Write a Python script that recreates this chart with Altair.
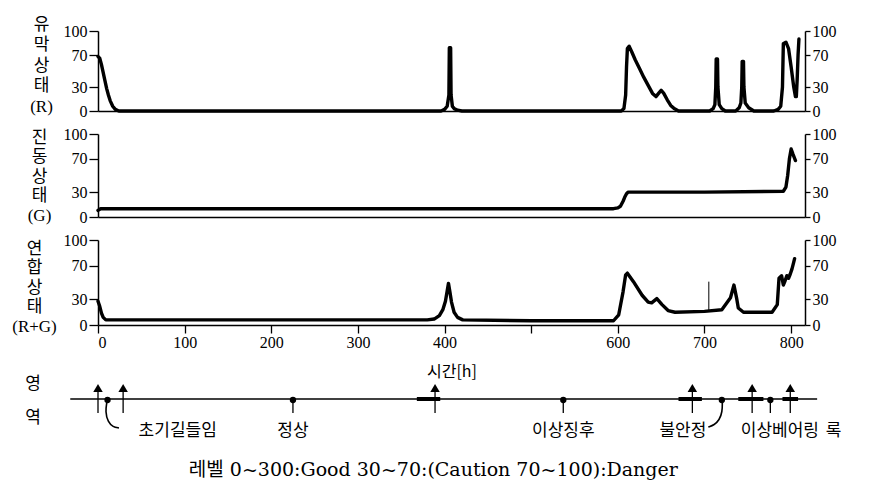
import altair as alt
import pandas as pd

# ---------------- data ----------------
# 유막상태 (R)
r_h = [0, 2, 4, 6, 8, 10, 12, 14, 17, 20, 24,
       396, 400, 403, 405, 405.5, 407, 407.5, 409, 411, 415, 420,
       604, 607, 609, 610, 611, 613, 616, 620, 625, 630, 635, 640, 644, 647, 650, 653, 657, 661, 665, 670,
       706, 710, 712, 713, 713.5, 715, 715.5, 717, 720, 724,
       736, 740, 742, 743, 743.5, 745, 745.5, 747, 751, 757,
       780, 785, 788, 790, 791, 794, 797, 800, 803, 805, 806, 807, 808, 809]
r_v = [68, 66, 58, 48, 38, 28, 20, 13, 6, 2, 0,
       0, 2, 6, 20, 79, 79, 20, 6, 3, 1, 0,
       0, 3, 20, 55, 78, 81, 74, 64, 53, 42, 32, 22, 18, 22, 26, 22, 14, 7, 3, 0,
       0, 3, 8, 30, 65, 65, 30, 8, 3, 0,
       0, 4, 10, 30, 62, 62, 30, 10, 4, 0,
       0, 2, 6, 30, 84, 86, 78, 55, 30, 18, 18, 40, 70, 90]

# 진동상태 (G)
g_h = [0, 3, 300, 595, 600, 603, 606, 608, 610, 612, 616, 700, 791, 794, 796, 798, 800, 802, 805]
g_v = [8, 10, 10, 10, 11, 13, 19, 24, 28, 30, 30, 30, 31, 36, 50, 70, 82, 76, 68]

# 연합상태 (R+G)
rg_h = [0, 2, 4, 6, 9, 200, 380, 388, 394, 398, 401, 403, 404.5, 406, 408, 411, 415, 421,
        500, 595, 601, 606, 609, 611, 618, 628, 635, 639, 645, 651, 658, 666, 700, 720,
        730, 734, 737, 739, 745, 778, 784, 786, 789, 791, 793, 795, 797, 799, 801, 803, 804]
rg_v = [28, 22, 14, 9, 6, 6, 6, 7, 11, 18, 28, 40, 49, 40, 27, 15, 9, 6,
        5, 5, 12, 39, 59, 61, 51, 35, 27, 26, 31, 24, 17, 15, 16, 18,
        32, 47, 32, 20, 15, 15, 24, 55, 58, 47, 52, 58, 55, 60, 66, 74, 78]
rg_spike_h = [705]
rg_spike_lo = [16]
rg_spike_hi = [51]

# bottom region strip
arrow_h = [0, 29, 389, 686, 755, 799]
dot_h = [11, 225, 537, 720, 776]
stem_dot_h = [225, 537, 776]
blob_from = [368, 670, 739, 790]
blob_to = [395, 697, 768, 808]
hook_id = [1, 1, 1, 1, 1, 2, 2, 2, 2, 2]
hook_h = [10.4, 8.4, 11.5, 17.3, 24.2, 720.6, 720.6, 717.1, 711.3, 704.4]
hook_y = [53, 64, 74, 79, 80, 53, 64, 72, 77, 79]
label_text = ["초기길들임", "정상", "이상징후", "불안정", "이상베어링", "록"]
label_h = [92, 225, 537, 675, 787, 849]
caption = "레벨  0~300:Good 30~70:(Caution 70~100):Danger"

titles = [["유", "막", "상", "태", "(R)"],
          ["진", "동", "상", "태", "(G)"],
          ["연", "합", "상", "태", "(R+G)"]]
x_ticks = [0, 100, 200, 300, 400, 500, 600, 700, 800]
y_ticks = [0, 30, 70, 100]

# ---------------- styling ----------------
X_DOMAIN = [0, 816]
W = 707
SERIF = "'Liberation Serif', 'Noto Sans CJK KR', serif"
KR = "'Noto Sans CJK KR', sans-serif"
LW = 3.4

xscale = alt.Scale(domain=X_DOMAIN, nice=False, zero=False)
yscale = alt.Scale(domain=[0, 100], nice=False)


def x_axis(bottom):
    if bottom:
        return alt.Axis(values=x_ticks, labelExpr="datum.value == 500 ? '' : datum.label",
                        tickSize=8, tickColor="black", tickWidth=1.3,
                        domainColor="black", domainWidth=1.5, grid=False,
                        labelFont=SERIF, labelFontSize=16, labelColor="black", labelPadding=1,
                        title="시간[h]", titleFont=KR, titleFontSize=16, titleFontWeight="normal",
                        titleColor="black", titlePadding=13)
    return alt.Axis(labels=False, ticks=False, title=None, grid=False,
                    domainColor="black", domainWidth=1.5)


def panel(h, v, title, height, tx, ty, lh, bottom, extra=None):
    df = pd.DataFrame({"h": h, "v": v})
    xa = x_axis(bottom)
    line = alt.Chart(df).mark_line(color="black", strokeWidth=LW, strokeJoin="round",
                                   strokeCap="round", clip=False).encode(
        x=alt.X("h:Q", scale=xscale, axis=xa),
        y=alt.Y("v:Q", scale=yscale,
                axis=alt.Axis(orient="left", values=y_ticks, tickSize=9, tickColor="black",
                              tickWidth=1.3, domainColor="black", domainWidth=1.5, grid=False,
                              labelFont=SERIF, labelFontSize=16, labelColor="black",
                              labelPadding=2, title=title, titleAngle=0, titleAlign="center",
                              titleBaseline="middle", titleX=tx, titleY=ty,
                              titleLineHeight=lh, titleFont=SERIF, titleFontSize=17,
                              titleFontWeight="normal", titleColor="black")),
    )
    right = alt.Chart(df).mark_line(strokeOpacity=0).encode(
        x=alt.X("h:Q", scale=xscale, axis=xa),
        y=alt.Y("v:Q", scale=yscale,
                axis=alt.Axis(orient="right", values=y_ticks, tickSize=5, tickColor="black",
                              tickWidth=1.3, domainColor="black", domainWidth=1.5, grid=False,
                              labelFont=SERIF, labelFontSize=16, labelColor="black",
                              labelPadding=2, title=None)),
    )
    layers = [line, right]
    if extra is not None:
        layers.append(extra)
    return alt.layer(*layers).resolve_scale(y="independent").properties(width=W, height=height)


p1 = panel(r_h, r_v, titles[0], 80, -57, -7, 20.5, False)
p2 = panel(g_h, g_v, titles[1], 83, -59, 3, 19.5, False)

spike_df = pd.DataFrame({"h": rg_spike_h, "lo": rg_spike_lo, "hi": rg_spike_hi})
spike = alt.Chart(spike_df).mark_rule(color="black", strokeWidth=1).encode(
    x=alt.X("h:Q", scale=xscale, axis=x_axis(True)),
    y=alt.Y("lo:Q", scale=yscale, axis=None),
    y2="hi:Q",
)
p3 = panel(rg_h, rg_v, titles[2], 85, -64, 8, 19.5, True, extra=spike)

# ---------------- region strip ----------------
sx = alt.X("h:Q", scale=xscale, axis=None)
sy_scale = alt.Scale(domain=[0, 130], reverse=True, nice=False, zero=False)


def sy(field="y"):
    return alt.Y(f"{field}:Q", scale=sy_scale, axis=None)


main_df = pd.DataFrame({"h": [-32], "h2": [830], "y": [51]})
main_line = alt.Chart(main_df).mark_rule(color="black", strokeWidth=1.4).encode(
    x=sx, x2="h2:Q", y=sy())

arrow_df = pd.DataFrame({"h": arrow_h, "y": [40] * len(arrow_h),
                         "y1": [44] * len(arrow_h), "y2": [65] * len(arrow_h)})
arrow_stem = alt.Chart(arrow_df).mark_rule(color="black", strokeWidth=1.3).encode(
    x=sx, y=sy("y1"), y2="y2:Q")
arrow_head = alt.Chart(arrow_df).mark_point(shape="triangle-up", filled=True, color="black",
                                            size=90, opacity=1).encode(x=sx, y=sy())

blob_df = pd.DataFrame({"h": blob_from, "h2": blob_to, "y": [51] * len(blob_from)})
blob = alt.Chart(blob_df).mark_rule(color="black", strokeWidth=4).encode(
    x=sx, x2="h2:Q", y=sy())

dot_df = pd.DataFrame({"h": dot_h, "y": [52] * len(dot_h)})
dots = alt.Chart(dot_df).mark_point(shape="circle", filled=True, color="black",
                                    size=40, opacity=1).encode(x=sx, y=sy())
stem_df = pd.DataFrame({"h": stem_dot_h, "y1": [52] * len(stem_dot_h),
                        "y2": [65] * len(stem_dot_h)})
stems = alt.Chart(stem_df).mark_rule(color="black", strokeWidth=1.3).encode(
    x=sx, y=sy("y1"), y2="y2:Q")

hook_df = pd.DataFrame({"id": hook_id, "h": hook_h, "y": hook_y,
                        "i": list(range(len(hook_h)))})
hooks = alt.Chart(hook_df).mark_line(color="black", strokeWidth=1.6,
                                     interpolate="basis").encode(
    x=sx, y=sy(), detail="id:N", order="i:Q")

lab_df = pd.DataFrame({"t": label_text, "h": label_h, "y": [83] * len(label_text)})
labels = alt.Chart(lab_df).mark_text(font=KR, fontSize=17, color="black",
                                     baseline="middle", align="center").encode(
    x=sx, y=sy(), text="t:N")

side_df = pd.DataFrame({"t": ["영", "역"], "h": [-75, -75], "y": [36, 70]})
side = alt.Chart(side_df).mark_text(font=KR, fontSize=17, color="black",
                                    baseline="middle", align="center").encode(
    x=sx, y=sy(), text="t:N")

cap_df = pd.DataFrame({"t": [caption], "h": [387], "y": [122]})
cap = alt.Chart(cap_df).mark_text(font="'DejaVu Serif', 'Noto Sans CJK KR', serif",
                                  fontSize=19, color="black",
                                  baseline="middle", align="center").encode(
    x=sx, y=sy(), text="t:N")

strip = alt.layer(main_line, blob, arrow_stem, arrow_head, stems, dots, hooks,
                  labels, side, cap).properties(width=W, height=130)

chart = alt.vconcat(p1, p2, p3, strip, spacing=23, bounds="flush").configure_view(
    stroke=None).properties(padding={"top": 7, "left": 3, "right": 5, "bottom": 0},
                            background="white")

chart.save("out.html", embed_options={"renderer": "svg", "actions": False})
